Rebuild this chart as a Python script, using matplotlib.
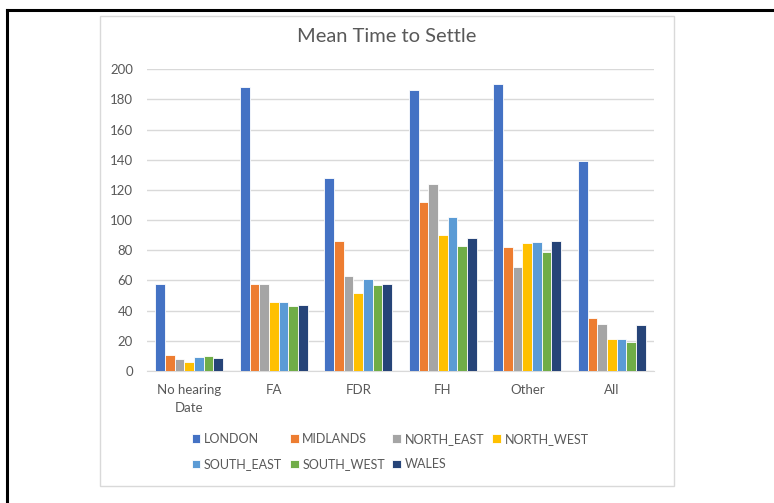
import matplotlib.pyplot as plt
import numpy as np
from matplotlib.lines import Line2D
from matplotlib.patches import Rectangle

plt.rcParams['font.family'] = ['Lato', 'DejaVu Sans']

categories = ['No hearing\nDate', 'FA', 'FDR', 'FH', 'Other', 'All']
regions = ['LONDON', 'MIDLANDS', 'NORTH_EAST', 'NORTH_WEST', 'SOUTH_EAST', 'SOUTH_WEST', 'WALES']
colors = ['#4472C4', '#ED7D31', '#A5A5A5', '#FFC000', '#5B9BD5', '#70AD47', '#264478']

london = [58, 188, 128, 186, 190, 139]
midlands = [10.4, 58, 86, 112, 82, 35]
north_east = [8, 57.7, 63, 124, 69, 31]
north_west = [6, 45.7, 52, 90, 85, 21]
south_east = [9.3, 46, 61, 102, 85.3, 21]
south_west = [10, 43, 57, 83, 79, 19]
wales = [8.4, 43.8, 58, 88, 86, 30.3]
series = [london, midlands, north_east, north_west, south_east, south_west, wales]

W, H = 774, 503
fig = plt.figure(figsize=(W / 100, H / 100), dpi=100)

# outer black frame (top and left edges only)
fig.add_artist(Line2D([7 / W, 7 / W], [0, 1 - 10 / H], transform=fig.transFigure, color='black', lw=2.2))
fig.add_artist(Line2D([7 / W, 1], [1 - 10 / H, 1 - 10 / H], transform=fig.transFigure, color='black', lw=2.2))

# chart area border
fig.add_artist(Rectangle((100 / W, 1 - 486 / H), 574 / W, 470 / H, transform=fig.transFigure,
                         fill=False, edgecolor='#D9D9D9', lw=1))

ax = fig.add_axes([147 / W, 1 - 371 / H, 507 / W, 301.7 / H])

x = np.arange(len(categories))
group = 0.8
bw = group / len(regions)
for i, (name, vals, c) in enumerate(zip(regions, series, colors)):
    ax.bar(x - group / 2 + bw * (i + 0.5), vals, bw, color=c, edgecolor='white', linewidth=0.6,
           label=name, zorder=3)

ax.set_xlim(-0.5, len(categories) - 0.5)
ax.set_ylim(0, 200)
ax.set_yticks(np.arange(0, 201, 20))
ax.set_xticks(x)
ax.set_xticklabels(categories, fontsize=9.5, color='#595959', linespacing=1.6)
ax.tick_params(axis='y', labelsize=9.5, labelcolor='#595959', length=0, pad=10)
ax.tick_params(axis='x', length=0, pad=9)
ax.grid(axis='y', color='#D9D9D9', lw=1, zorder=0)
for s in ['top', 'right', 'left']:
    ax.spines[s].set_visible(False)
ax.spines['bottom'].set_color('#D9D9D9')

# title centred on the chart area
fig.text(387 / W, 1 - 37 / H, 'Mean Time to Settle', fontsize=14.5, color='#595959',
         ha='center', va='center')

# row-major ordering for a 4-column legend
h, l = ax.get_legend_handles_labels()
order = [0, 4, 1, 5, 2, 6, 3]
fig.legend([h[k] for k in order], [l[k] for k in order], ncol=4, loc='center',
           bbox_to_anchor=(390 / W, 1 - 451.5 / H), frameon=False, fontsize=9,
           labelcolor='#595959', handlelength=0.7, handleheight=0.7, handletextpad=0.3,
           columnspacing=0.6, labelspacing=1.1)

fig.savefig('out.png', dpi=100)
